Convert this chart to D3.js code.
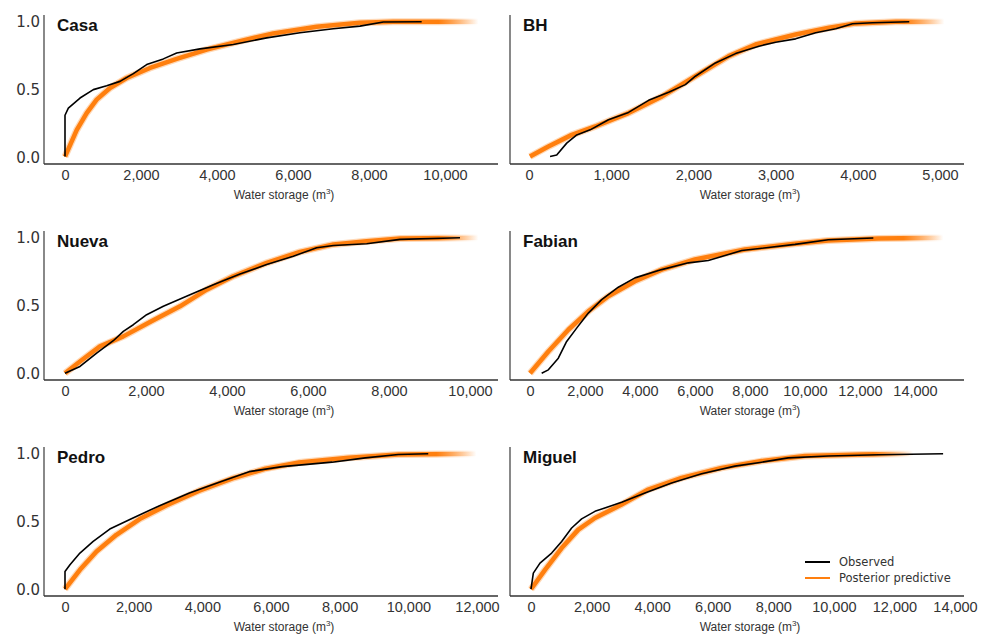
<!DOCTYPE html>
<html>
<head>
<meta charset="utf-8">
<script src="https://cdn.jsdelivr.net/npm/d3@7"></script>
<style>
  body { margin: 0; background: #fff; }
  svg { display: block; }
  .xtick text { font-family: "Liberation Sans", Arial, sans-serif; font-size: 14.5px; fill: #333; }
  .ytick text { font-family: "DejaVu Sans", sans-serif; font-size: 15px; fill: #333; }
  .xlabel { font-family: "Liberation Sans", Arial, sans-serif; font-size: 12px; fill: #333; }
  .title { font-family: "Liberation Sans", Arial, sans-serif; font-size: 17px; font-weight: bold; fill: #111; }
  .legend text { font-family: "DejaVu Sans", sans-serif; font-size: 11.5px; fill: #333; }
</style>
</head>
<body>
<div id="chart"></div>
<script>
// site names
const sites = ['Casa', 'BH', 'Nueva', 'Fabian', 'Pedro', 'Miguel'];

// x tick values per site (m3)
const xTicksCasa   = [0, 2000, 4000, 6000, 8000, 10000];
const xTicksBH     = [0, 1000, 2000, 3000, 4000, 5000];
const xTicksNueva  = [0, 2000, 4000, 6000, 8000, 10000];
const xTicksFabian = [0, 2000, 4000, 6000, 8000, 10000, 12000, 14000];
const xTicksPedro  = [0, 2000, 4000, 6000, 8000, 10000, 12000];
const xTicksMiguel = [0, 2000, 4000, 6000, 8000, 10000, 12000, 14000];
const yTicks = [0, 0.5, 1.0];

// observed ECDFs [storage, cumulative prob]
const obsCasa = [[0,0.005],[0,0.31],[88,0.363],[395,0.437],[746,0.499],[1096,0.528],[1447,0.56],[1798,0.617],[2149,0.684],[2588,0.726],[2939,0.77],[3553,0.8],[4430,0.832],[5307,0.881],[6184,0.919],[7061,0.948],[7763,0.968],[8377,0.998],[9386,1.0]];
const obsBH = [[256,0.005],[337,0.017],[459,0.104],[581,0.165],[744,0.202],[967,0.277],[1211,0.331],[1455,0.42],[1699,0.479],[1902,0.536],[2024,0.598],[2268,0.696],[2512,0.765],[2797,0.82],[3000,0.849],[3244,0.874],[3488,0.919],[3732,0.948],[3935,0.985],[4179,0.993],[4626,1.0]];
const obsNueva = [[0,0],[370,0.05],[782,0.148],[1193,0.24],[1440,0.309],[1687,0.358],[2016,0.432],[2428,0.494],[3086,0.58],[3663,0.654],[4321,0.733],[4980,0.802],[5638,0.864],[6214,0.926],[6626,0.943],[7449,0.956],[8272,0.988],[9753,1.0]];
const obsFabian = [[424,0],[667,0.025],[1030,0.111],[1333,0.235],[1697,0.333],[2121,0.444],[2606,0.543],[3212,0.635],[3818,0.704],[4788,0.765],[5758,0.815],[6485,0.832],[7697,0.906],[9636,0.951],[10848,0.985],[12485,0.998]];
const obsPedro = [[0,0],[0,0.131],[145,0.18],[435,0.267],[821,0.353],[1304,0.444],[1981,0.526],[2754,0.617],[3623,0.711],[4493,0.79],[5362,0.868],[6329,0.905],[7778,0.938],[8744,0.97],[9710,0.995],[10580,1.0]];
const obsMiguel = [[0,0],[77,0.119],[297,0.193],[682,0.267],[1012,0.353],[1342,0.452],[1672,0.519],[2112,0.575],[2992,0.642],[3762,0.711],[4642,0.785],[5632,0.852],[6733,0.909],[7613,0.938],[8493,0.97],[9813,0.983],[11463,0.993],[13607,1.0]];

// posterior predictive ECDFs [storage, cumulative prob]
const ppCasa = [[0,0.005],[307,0.2],[570,0.326],[833,0.425],[1184,0.511],[1623,0.585],[2237,0.659],[2939,0.726],[3728,0.795],[4605,0.857],[5482,0.914],[6623,0.963],[7763,0.993],[8640,1.0],[10880,1.0]];
const ppBH = [[12,0.005],[236,0.079],[520,0.165],[805,0.227],[1211,0.326],[1618,0.449],[2024,0.598],[2430,0.746],[2756,0.832],[3244,0.906],[3650,0.956],[3976,0.988],[4463,1.0],[5053,1.0]];
const ppNueva = [[0,0],[370,0.086],[864,0.198],[1440,0.272],[2099,0.378],[2840,0.494],[3498,0.617],[4156,0.716],[4980,0.815],[5802,0.896],[6626,0.951],[7449,0.975],[8272,0.995],[10206,1.0]];
const ppFabian = [[0,0],[667,0.16],[1394,0.321],[2121,0.457],[2848,0.568],[3818,0.679],[4788,0.765],[6000,0.84],[7818,0.914],[9636,0.956],[10848,0.98],[12667,0.995],[15030,1.0]];
const ppPedro = [[0,0],[435,0.143],[918,0.279],[1498,0.402],[2174,0.518],[2947,0.618],[3913,0.728],[4879,0.818],[5845,0.89],[6812,0.935],[8261,0.97],[9710,0.995],[11981,1.0]];
const ppMiguel = [[0,0],[462,0.143],[1012,0.304],[1562,0.44],[2112,0.526],[2992,0.625],[3872,0.736],[4972,0.822],[6293,0.896],[7613,0.946],[9043,0.983],[10913,0.995],[12617,1.0]];

const legendLabels = ['Observed', 'Posterior predictive'];
const colorObs = '#000000', colorPP = '#ff7f0e';

// layout: one entry per panel
const panels = [
  {name: sites[0], obs: obsCasa,   pp: ppCasa,   ticks: xTicksCasa,   axL: 44,  axR: 498, x0: 65,  xMax: 10000, xPx: 445, top: 0,   yLabels: true},
  {name: sites[1], obs: obsBH,     pp: ppBH,     ticks: xTicksBH,     axL: 510, axR: 964, x0: 529, xMax: 5000,  xPx: 940, top: 0,   yLabels: false},
  {name: sites[2], obs: obsNueva,  pp: ppNueva,  ticks: xTicksNueva,  axL: 44,  axR: 498, x0: 65,  xMax: 10000, xPx: 470, top: 216, yLabels: true},
  {name: sites[3], obs: obsFabian, pp: ppFabian, ticks: xTicksFabian, axL: 510, axR: 964, x0: 530, xMax: 14000, xPx: 915, top: 216, yLabels: false},
  {name: sites[4], obs: obsPedro,  pp: ppPedro,  ticks: xTicksPedro,  axL: 44,  axR: 498, x0: 65,  xMax: 12000, xPx: 477, top: 432, yLabels: true},
  {name: sites[5], obs: obsMiguel, pp: ppMiguel, ticks: xTicksMiguel, axL: 510, axR: 964, x0: 531, xMax: 14000, xPx: 955, top: 432, yLabels: false, legend: true}
];

const W = 991, H = 637;
const svg = d3.select('#chart').append('svg').attr('width', W).attr('height', H);
const defs = svg.append('defs');

panels.forEach((p, i) => {
  const g = svg.append('g').attr('transform', `translate(0,${p.top})`);
  const x = d3.scaleLinear([0, p.xMax], [p.x0, p.xPx]);
  const y = d3.scaleLinear([-0.05, 1.05], [164, 15]);
  const line = d3.line().x(d => x(d[0])).y(d => y(d[1]));

  // fading tail for the posterior band
  const endX = x(p.pp[p.pp.length - 1][0]);
  const grad = defs.append('linearGradient')
    .attr('id', `fade${i}`).attr('gradientUnits', 'userSpaceOnUse')
    .attr('x1', endX - 40).attr('x2', endX).attr('y1', 0).attr('y2', 0);
  grad.append('stop').attr('offset', 0).attr('stop-color', colorPP).attr('stop-opacity', 1);
  grad.append('stop').attr('offset', 1).attr('stop-color', colorPP).attr('stop-opacity', 0);

  g.append('path').datum(p.pp).attr('d', line)
    .attr('fill', 'none').attr('stroke', `url(#fade${i})`)
    .attr('stroke-width', 7).attr('stroke-opacity', 0.3).attr('stroke-linejoin', 'round');
  g.append('path').datum(p.pp).attr('d', line)
    .attr('fill', 'none').attr('stroke', `url(#fade${i})`)
    .attr('stroke-width', 4.5).attr('stroke-linejoin', 'round');
  g.append('path').datum(p.obs).attr('d', line)
    .attr('fill', 'none').attr('stroke', colorObs)
    .attr('stroke-width', 1.6).attr('stroke-linejoin', 'round');

  // axis lines
  g.append('line').attr('x1', p.axL).attr('x2', p.axL).attr('y1', 15).attr('y2', 164)
    .attr('stroke', '#6b6b6b').attr('stroke-width', 1.6);
  g.append('line').attr('x1', p.axL).attr('x2', p.axR).attr('y1', 164).attr('y2', 164)
    .attr('stroke', '#333').attr('stroke-width', 1.6);

  // x tick labels
  const ax = g.append('g').attr('class', 'xtick').attr('transform', 'translate(0,168)')
    .call(d3.axisBottom(x).tickValues(p.ticks).tickFormat(d3.format(',')).tickSize(0).tickPadding(2));
  ax.select('.domain').remove();

  if (p.yLabels) {
    const ay = g.append('g').attr('class', 'ytick').attr('transform', `translate(${p.axL - 2},0)`)
      .call(d3.axisLeft(y).tickValues(yTicks).tickFormat(d3.format('.1f')).tickSize(0).tickPadding(2));
    ay.select('.domain').remove();
  }

  const lab = g.append('text').attr('class', 'xlabel')
    .attr('x', (p.axL + p.axR) / 2 + 13).attr('y', 199).attr('text-anchor', 'middle');
  lab.append('tspan').text('Water storage (m');
  lab.append('tspan').attr('font-size', '8px').attr('dy', -5).text('3');
  lab.append('tspan').attr('dy', 5).text(')');

  g.append('text').attr('class', 'title').attr('x', p.axL + 13).attr('y', 31).text(p.name);

  if (p.legend) {
    const lg = g.append('g').attr('class', 'legend');
    [colorObs, colorPP].forEach((c, k) => {
      const ly = 130 + k * 16;
      lg.append('line').attr('x1', 805).attr('x2', 830).attr('y1', ly).attr('y2', ly)
        .attr('stroke', c).attr('stroke-width', 2);
      lg.append('text').attr('x', 839).attr('y', ly).attr('dy', '0.35em').text(legendLabels[k]);
    });
  }
});
</script>
</body>
</html>
